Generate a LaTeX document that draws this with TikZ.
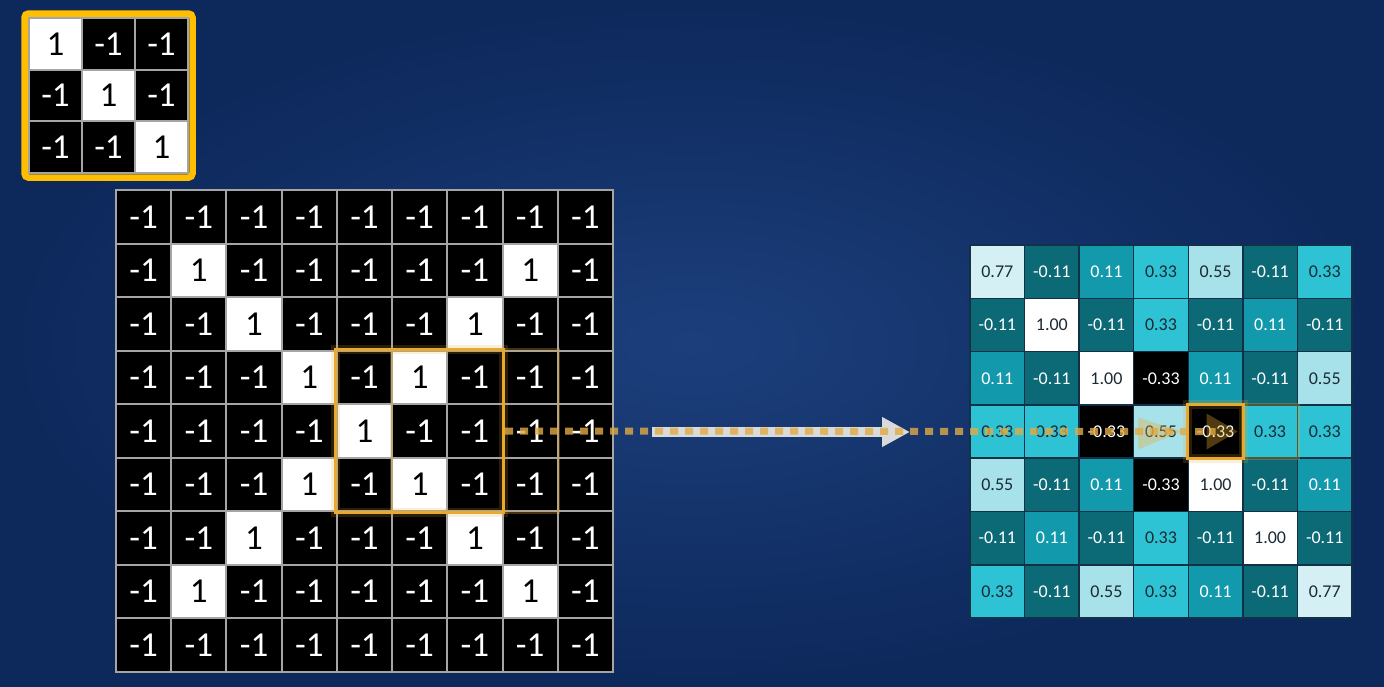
\documentclass[tikz,border=0pt]{standalone}
\usepackage{fontspec}
\setmainfont{Carlito}
\usetikzlibrary{arrows.meta,fit}
\definecolor{bgin}{HTML}{1C3F7C}
\definecolor{bgout}{HTML}{0D285B}
\definecolor{gridgray}{HTML}{A5A5A5}
\definecolor{kyellow}{HTML}{FFBE00}
\definecolor{hl}{HTML}{E8A92E}
\definecolor{dashc}{HTML}{E0AA45}
\definecolor{arrc}{HTML}{DADADA}
\definecolor{ogrid}{HTML}{123046}
\definecolor{c77}{HTML}{D5F0F4}
\definecolor{c55}{HTML}{A7E2EA}
\definecolor{c33}{HTML}{2DC3D5}
\definecolor{c11}{HTML}{1399AC}
\definecolor{cm11}{HTML}{0C6A77}
\definecolor{dk}{HTML}{1B2A33}
\newcommand\outcol[1]{%
  \def\fc{cm11}\def\tc{white}%
  \ifdim #1pt=0.77pt \def\fc{c77}\def\tc{dk}\fi
  \ifdim #1pt=0.55pt \def\fc{c55}\def\tc{dk}\fi
  \ifdim #1pt=0.33pt \def\fc{c33}\def\tc{dk}\fi
  \ifdim #1pt=0.11pt \def\fc{c11}\def\tc{white}\fi
  \ifdim #1pt=1pt \def\fc{white}\def\tc{dk}\fi
  \ifdim #1pt=-0.33pt \def\fc{black}\def\tc{white}\fi
}
\tikzset{
  incell/.style={draw=gridgray, line width=2pt, inner sep=0pt,
    minimum width=55.22pt, minimum height=53.56pt,
    font=\fontsize{35}{35}\selectfont},
  kcell/.style={draw=gridgray, line width=2pt, inner sep=0pt,
    minimum width=53pt, minimum height=51.7pt,
    font=\fontsize{35}{35}\selectfont},
  outcell/.style={draw=ogrid, line width=1.5pt, inner sep=0pt,
    minimum width=54.57pt, minimum height=53.29pt,
    font=\fontsize{18}{18}\selectfont},
  window/.style={draw=hl, line width=3pt, inner sep=0pt},
  glow/.style={draw=hl, line width=9pt, inner sep=0pt, opacity=0.18},
  ghost/.style={draw=hl, line width=3pt, inner sep=0pt, opacity=0.3},
  ghosttip/.style={fill=hl, opacity=0.35},
  dashline/.style={draw=dashc, line width=7pt, dash pattern=on 8pt off 7pt, opacity=0.8},
  bigarrow/.style={draw=arrc, line width=10pt, -{Triangle[length=28pt,width=28pt]}},
}
\begin{document}
\begin{tikzpicture}[x=1pt,y=-1pt]
\useasboundingbox (0,0) rectangle (1384,686);
\shade[inner color=bgin, outer color=bgout] (0,0) rectangle (1384,686);

% input image
\foreach \row [count=\r from 0] in {
  {-1,-1,-1,-1,-1,-1,-1,-1,-1},
  {-1,1,-1,-1,-1,-1,-1,1,-1},
  {-1,-1,1,-1,-1,-1,1,-1,-1},
  {-1,-1,-1,1,-1,1,-1,-1,-1},
  {-1,-1,-1,-1,1,-1,-1,-1,-1},
  {-1,-1,-1,1,-1,1,-1,-1,-1},
  {-1,-1,1,-1,-1,-1,1,-1,-1},
  {-1,1,-1,-1,-1,-1,-1,1,-1},
  {-1,-1,-1,-1,-1,-1,-1,-1,-1}} {
  \foreach \v [count=\c from 0] in \row {
    \ifnum\v=1 \def\fc{white}\def\tc{black}\else\def\fc{black}\def\tc{white}\fi
    \node[incell, fill=\fc, text=\tc] (in-\r-\c) at ({116+55.22*(\c+0.5)},{190+53.56*(\r+0.5)}) {\v};
  }
}

% kernel
\foreach \row [count=\r from 0] in {{1,-1,-1},{-1,1,-1},{-1,-1,1}} {
  \foreach \v [count=\c from 0] in \row {
    \ifnum\v=1 \def\fc{white}\def\tc{black}\else\def\fc{black}\def\tc{white}\fi
    \node[kcell, fill=\fc, text=\tc] (k-\r-\c) at ({29+53*(\c+0.5)},{18+51.7*(\r+0.5)}) {\v};
  }
}
\node[fit=(k-0-0)(k-2-2), draw=kyellow, line width=6.5pt, rounded corners=4pt, inner sep=3.5pt] (kernel) {};

% window on input
\node[glow, fit=(in-3-4)(in-5-6)] (winglow) {};
\node[ghost, fit=(in-3-5)(in-5-7)] (winghost) {};
\node[window, fit=(in-3-4)(in-5-6)] (win) {};

% output map
\foreach \row [count=\r from 0] in {
  {0.77,-0.11,0.11,0.33,0.55,-0.11,0.33},
  {-0.11,1.00,-0.11,0.33,-0.11,0.11,-0.11},
  {0.11,-0.11,1.00,-0.33,0.11,-0.11,0.55},
  {0.33,0.33,-0.33,0.55,-0.33,0.33,0.33},
  {0.55,-0.11,0.11,-0.33,1.00,-0.11,0.11},
  {-0.11,0.11,-0.11,0.33,-0.11,1.00,-0.11},
  {0.33,-0.11,0.55,0.33,0.11,-0.11,0.77}} {
  \foreach \v [count=\c from 0] in \row {
    \outcol{\v}
    \node[outcell, fill=\fc, text=\tc] (out-\r-\c) at ({970+54.57*(\c+0.5)},{245+53.29*(\r+0.5)}) {\v};
  }
}
\node[glow, fit=(out-3-4)] (outglow) {};
\node[ghost, fit=(out-3-5)] (outghost) {};
\node[window, fit=(out-3-4)] (outwin) {};

% faint trailing arrow heads
\fill[ghosttip] ([xshift=-23pt,yshift=-18pt]out-3-3.center) -- ([xshift=21pt]out-3-3.center) -- ([xshift=-23pt,yshift=14pt]out-3-3.center) -- cycle;
\fill[ghosttip] ([xshift=-9pt,yshift=-18pt]out-3-4.center) -- ([xshift=22pt]out-3-4.center) -- ([xshift=-9pt,yshift=18pt]out-3-4.center) -- cycle;

% arrow and sliding path
\coordinate (arrS) at (652,432);
\coordinate (arrE) at (910,432);
\draw[bigarrow] (arrS) -- (arrE);
\draw[dashline] (win.east) -- (out-3-4.center);
\end{tikzpicture}
\end{document}
